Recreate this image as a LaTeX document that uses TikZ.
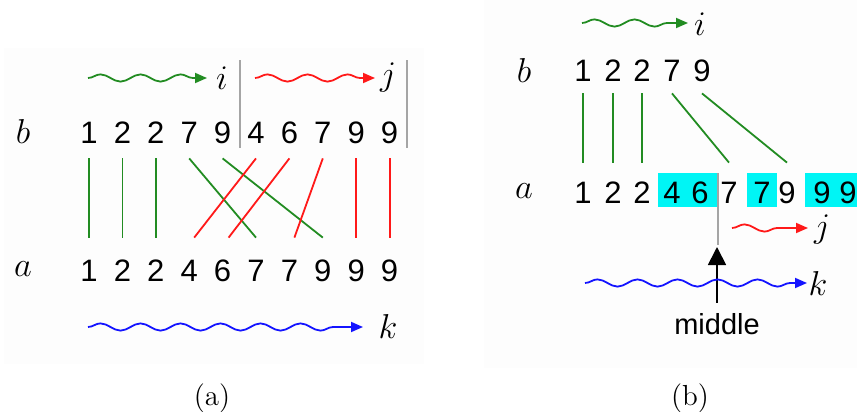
\documentclass[tikz,border=0pt]{standalone}
\usepackage{fontspec}
\setsansfont{Liberation Sans}
\usetikzlibrary{decorations.pathmorphing,arrows.meta,calc}
\definecolor{ggreen}{RGB}{34,140,34}
\definecolor{rred}{RGB}{255,25,25}
\definecolor{bblue}{RGB}{20,20,255}
\definecolor{sepgray}{RGB}{165,165,165}
\definecolor{hcyan}{RGB}{0,245,245}
\definecolor{panelbg}{RGB}{253,253,253}
\begin{document}
\begin{tikzpicture}[x=0.5pt,y=-0.5pt,
  dig/.style={font=\sffamily\fontsize{15.5}{18}\selectfont, inner sep=0pt, text height=11pt, text depth=0pt},
  lbl/.style={font=\fontsize{17}{20}\selectfont, inner sep=0pt},
  lbla/.style={font=\fontsize{18}{22}\selectfont, inner sep=0pt},
  captxt/.style={font=\fontsize{14.5}{17}\selectfont, inner sep=0pt},
  wave/.style={decorate, decoration={snake, segment length=20pt, amplitude=1.8pt, post length=7pt},
    line width=0.9pt, -{Triangle[length=6pt,width=5pt]}},
  link/.style={line width=0.9pt},
  sep/.style={draw=sepgray, line width=1pt},
  hl/.style={fill=hcyan, draw=none}]
\useasboundingbox (0,0) rectangle (857,412);
% faint panel backgrounds
\fill[panelbg] (4,48) rectangle (424,364);
\fill[panelbg] (484,0) rectangle (857,368);

% ================= (a) =================
\node[lbl] (lb) at (23,131) {$b$};
\node[lbla] (la) at (23,269) {$a$};
\foreach \v [count=\n] in {1,2,2,7,9,4,6,7,9,9}
  \node[dig] (b\n) at ({89+33.4*(\n-1)},132) {\v};
\foreach \v [count=\n] in {1,2,2,4,6,7,7,9,9,9}
  \node[dig] (a\n) at ({89+33.4*(\n-1)},270) {\v};

\coordinate (s1t) at (240,60); \coordinate (s1b) at (240,148);
\coordinate (s2t) at (407,60); \coordinate (s2b) at (407,148);
\draw[sep] (s1t) -- (s1b);
\draw[sep] (s2t) -- (s2b);

\node[lbl] (li) at (222,78) {$i$};
\node[lbl] (lj) at (388,78) {$j$};
\node[lbl] (lk) at (388,326) {$k$};
\coordinate (wi0) at (88,78);  \coordinate (wi1) at (207,78);
\coordinate (wj0) at (255,78); \coordinate (wj1) at (375,78);
\coordinate (wk0) at (88,327); \coordinate (wk1) at (363,327);
\draw[wave, ggreen] (wi0) -- (wi1);
\draw[wave, rred] (wj0) -- (wj1);
\draw[wave, bblue] (wk0) -- (wk1);

\foreach \p/\q in {1/1,2/2,3/3,4/6,5/8}
  \draw[link, ggreen] ($(b\p.south)+(0,15)$) -- ($(a\q.north)+(0,-21)$);
\foreach \p/\q/\d in {6/4/5,7/5/6,8/7/5,9/9/0,10/10/0}
  \draw[link, rred] ($(b\p.south)+(0,15)$) -- ($(a\q.north)+(\d,-21)$);

\node[captxt] (capa) at (212,398) {(a)};

% ================= (b) =================
\fill[hl] (658,173) rectangle (717,207);
\fill[hl] (747,173) rectangle (777,207);
\fill[hl] (805,173) rectangle (857,207);

\node[lbl] (rlb) at (524,71) {$b$};
\node[lbla] (rla) at (524,191) {$a$};
\foreach \v/\x [count=\n] in {1/583,2/613,2/642,7/672,9/702}
  \node[dig] (rb\n) at (\x,70) {\v};
\foreach \v/\x [count=\n] in {1/583,2/613,2/642,4/672,6/700,7/729,7/762,9/787,9/822,9/848}
  \node[dig] (ra\n) at (\x,192) {\v};

\foreach \p/\q in {1/1,2/2,3/3,4/6,5/8}
  \draw[link, ggreen] ($(rb\p.south)+(0,12)$) -- ($(ra\q.north)+(0,-18)$);

\coordinate (mt) at (718,173); \coordinate (mb) at (718,245);
\draw[sep] (mt) -- (mb);
\node[font=\sffamily\fontsize{14.5}{17}\selectfont, inner sep=0pt] (mid) at (717,324) {middle};
\coordinate (mtip) at (717,247);
\draw[line width=0.9pt, -{Triangle[length=9pt,width=9pt]}] ($(mid.north)+(0,-10)$) -- (mtip);

\node[lbl] (rli) at (700,24) {$i$};
\node[lbl] (rlj) at (822,230) {$j$};
\node[lbl] (rlk) at (818,283) {$k$};
\coordinate (rwi0) at (582,23);  \coordinate (rwi1) at (688,23);
\coordinate (rwj0) at (732,228); \coordinate (rwj1) at (808,228);
\coordinate (rwk0) at (585,283); \coordinate (rwk1) at (807,283);
\draw[wave, ggreen] (rwi0) -- (rwi1);
\draw[wave, rred] (rwj0) -- (rwj1);
\draw[wave, bblue] (rwk0) -- (rwk1);

\node[captxt] (capb) at (690,398) {(b)};
\end{tikzpicture}
\end{document}
